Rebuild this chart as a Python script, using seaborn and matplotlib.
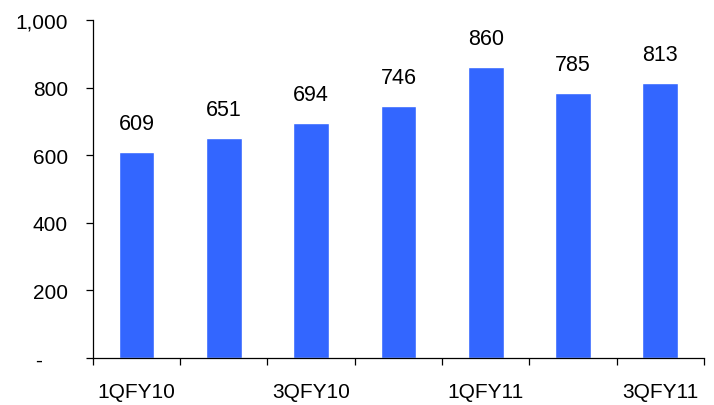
import matplotlib
matplotlib.use("Agg")
import matplotlib.pyplot as plt
import matplotlib.transforms as mtransforms
from matplotlib.ticker import FuncFormatter, FixedLocator
import seaborn as sns
import pandas as pd

quarters = ["1QFY10", "2QFY10", "3QFY10", "4QFY10", "1QFY11", "2QFY11", "3QFY11"]
values = [609, 651, 694, 746, 860, 785, 813]
shown_labels = ["1QFY10", "", "3QFY10", "", "1QFY11", "", "3QFY11"]
y_ticks = [0, 200, 400, 600, 800, 1000]

sns.set_theme(style="white")
plt.rcParams["font.family"] = ["Liberation Sans", "DejaVu Sans"]

df = pd.DataFrame({"quarter": quarters, "value": values})

fig = plt.figure(figsize=(7.14, 4.06), dpi=100)
ax = fig.add_axes([0.130, 0.116, 0.856, 0.832])

sns.barplot(data=df, x="quarter", y="value", color="#3366FF", saturation=1,
            width=0.41, ax=ax)

for c in ax.containers:
    ax.bar_label(c, labels=[f"{v:,.0f}" for v in values], padding=13,
                 fontsize=15.5, color="black")

ax.set_xlim(-0.5, len(quarters) - 0.5)
ax.set_ylim(0, 1000)
ax.set_yticks(y_ticks)
ax.yaxis.set_major_formatter(FuncFormatter(lambda v, p: "-" if v == 0 else f"{v:,.0f}"))

ax.set_xticks(range(len(quarters)))
ax.set_xticklabels(shown_labels)
ax.xaxis.set_minor_locator(FixedLocator([i - 0.5 for i in range(len(quarters) + 1)]))
ax.tick_params(axis="x", which="major", length=0, pad=17, labelsize=15, colors="black")
ax.tick_params(axis="x", which="minor", length=5, width=0.9, color="black", bottom=True)
ax.tick_params(axis="y", which="major", length=5, width=0.9, color="black", left=True,
               pad=13, labelsize=15, labelcolor="black")

ax.set_xlabel("")
ax.set_ylabel("")
for side in ["top", "right"]:
    ax.spines[side].set_visible(False)
for side in ["left", "bottom"]:
    ax.spines[side].set_color("black")
    ax.spines[side].set_linewidth(0.9)

# the zero label sits further left, as in accounting number format
zero_label = ax.get_yticklabels()[0]
zero_label.set_transform(zero_label.get_transform() +
                         mtransforms.ScaledTranslation(-0.26, 0, fig.dpi_scale_trans))

fig.savefig("out.png", dpi=100)
